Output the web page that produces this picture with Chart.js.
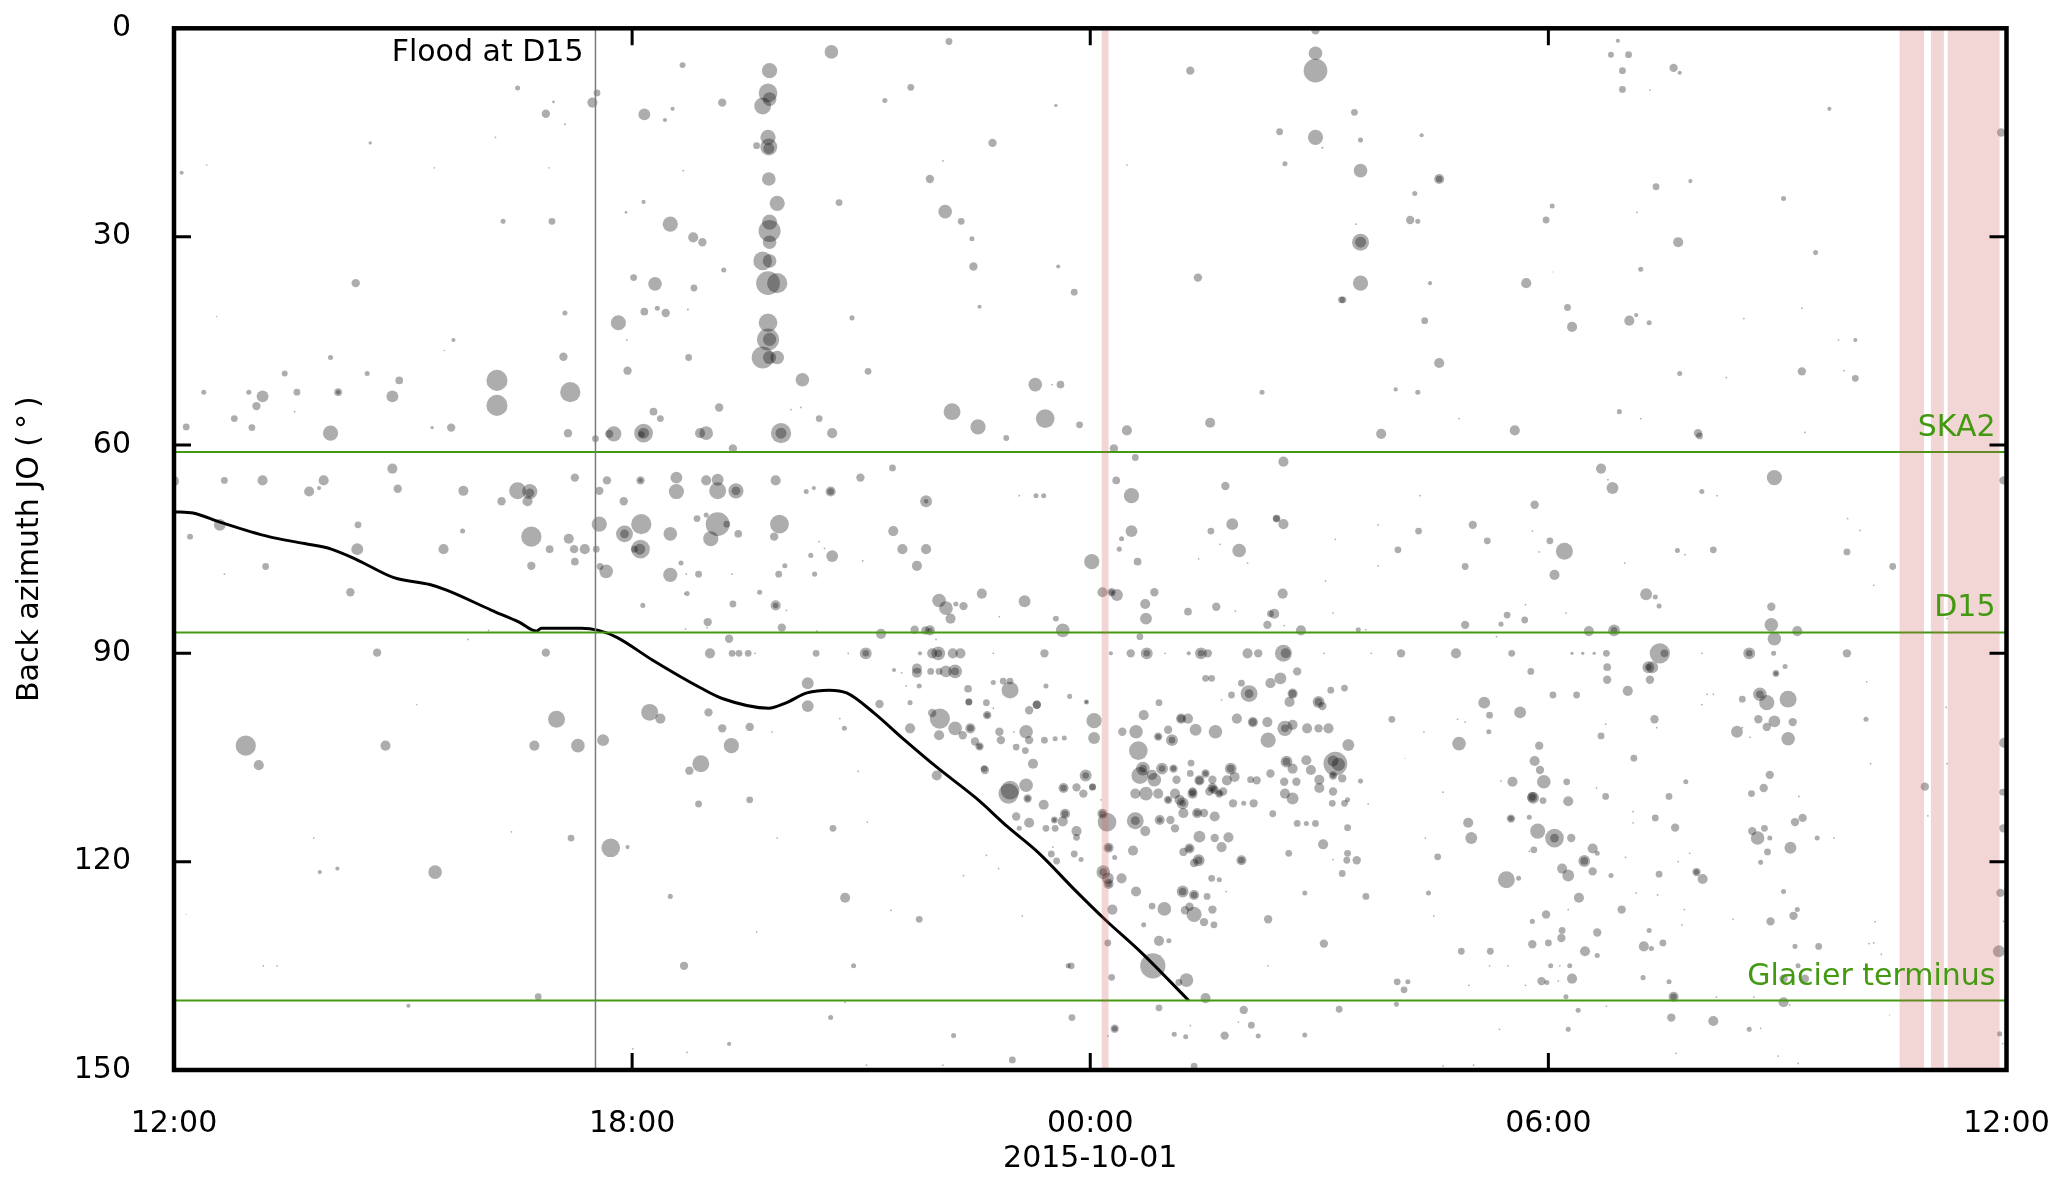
<!DOCTYPE html>
<html><head><meta charset="utf-8">
<style>html,body{margin:0;padding:0;background:#fff;}canvas{display:block;}</style>
<script src="https://cdn.jsdelivr.net/npm/chart.js@4.4.1/dist/chart.umd.min.js"></script>
</head><body>
<canvas id="c" width="2067" height="1180"></canvas>
<script>
// ---- x axis: hours since 2015-09-30 12:00 ----
const xTickLabels = ['12:00', '18:00', '00:00', '06:00', '12:00'];
const xDateLabel = '2015-10-01';
const yTitle = 'Back azimuth JO (\u2009\u00b0\u2009)';

// reference azimuths
const refAz = [61, 87, 140];
const refLabels = ['SKA2', 'D15', 'Glacier terminus'];
// flood arrival at D15
const floodTime = 5.52;
const floodLabel = 'Flood at D15';
// shaded time intervals (hours)
const bandStart = [12.15, 22.60, 23.01, 23.23];
const bandEnd   = [12.24, 22.92, 23.18, 23.91];

// flood front azimuth track
const frontTime = [0.0,0.25,0.6,1.24,1.71,2.06,2.41,2.88,3.35,3.57,4.16,4.52,4.75,4.81,5.33,5.56,5.80,6.27,6.90,7.18,7.79,8.00,8.29,8.58,8.81,9.17,9.57,9.99,10.51,10.92,11.33,11.80,12.20,12.67,13.29];
const frontAz   = [69.6,69.8,71.1,73.2,74.2,75.0,76.6,79.1,80.1,80.9,83.8,85.5,86.8,86.4,86.4,86.7,87.7,91.0,95.0,96.5,97.9,97.2,95.7,95.3,95.7,98.6,102.5,106.4,110.9,115.0,118.8,124.1,128.4,133.1,140.0];

// detected events: time (h), back azimuth (deg), amplitude (arbitrary)
const evtTime = [
6.66,4.50,5.54,5.48,4.97,4.87,6.16,6.53,6.43,5.12,
2.57,4.21,0.10,0.43,3.41,4.91,6.67,6.15,5.92,4.31,
4.95,6.50,6.80,2.38,6.02,6.30,6.81,0.56,5.12,5.82,
6.16,6.33,6.44,6.73,3.66,3.54,5.10,5.93,5.94,6.74,
2.05,1.45,2.53,2.95,4.23,5.19,0.39,0.98,1.16,1.61,
2.15,2.15,2.86,4.23,0.16,0.79,1.02,1.08,1.58,2.05,
3.38,3.63,5.16,5.52,5.76,5.70,6.15,6.15,6.12,6.28,
6.37,6.89,0.00,0.66,1.16,1.96,1.77,1.90,2.86,2.93,
3.79,4.29,4.50,4.66,4.66,4.63,5.25,5.67,5.57,5.89,
6.11,6.11,6.58,6.58,0.60,0.21,2.41,2.40,3.53,3.78,
4.68,5.57,5.90,5.90,6.12,6.11,6.10,6.03,5.17,4.92,
5.24,5.38,5.53,5.25,4.68,5.66,5.58,6.50,6.50,6.64,
6.72,6.14,1.20,0.66,2.31,4.12,3.85,2.66,4.87,5.01,
6.23,6.37,0.94,1.11,2.77,4.72,5.29,5.62,6.90,6.75,
3.18,6.87,1.83,4.42,5.20,5.72,5.94,1.91,2.14,3.42,
6.50,0.16,1.17,1.35,6.68,4.77,3.07,6.01,6.72,10.15,
8.61,7.80,7.78,7.80,7.71,7.18,9.65,9.31,11.55,7.78,
7.79,7.79,7.63,10.72,10.07,7.79,9.90,7.90,8.71,10.10,
10.31,7.80,7.80,7.80,6.92,10.45,7.71,7.80,7.20,10.47,
11.58,7.78,7.90,11.79,10.55,8.88,7.78,7.78,7.80,7.71,
7.80,7.90,9.09,8.23,11.28,11.61,11.50,13.31,14.95,14.95,
14.95,14.48,14.95,15.04,12.48,14.55,13.41,15.29,14.25,7.14,
6.97,7.95,7.95,8.62,8.45,8.08,8.21,7.32,10.19,10.53,
11.41,10.90,11.86,12.48,13.57,12.31,12.59,14.53,6.97,7.12,
7.12,7.36,7.36,7.88,8.60,8.60,8.28,8.38,8.99,9.41,
9.85,9.85,11.29,11.39,11.07,12.34,12.54,13.77,6.85,6.97,
7.12,7.24,7.03,7.39,7.93,7.86,8.62,8.34,8.45,8.52,
9.42,9.54,9.85,9.73,9.02,6.87,6.71,7.31,7.92,8.00,
8.39,12.02,12.38,12.41,12.54,12.62,13.86,13.58,13.70,13.95,
14.06,13.42,14.53,14.44,14.44,15.21,15.08,6.69,7.67,7.32,
7.88,7.88,8.02,10.02,10.11,10.17,10.24,10.34,10.58,11.14,
10.81,11.55,11.64,12.16,12.28,12.28,12.35,12.84,12.72,12.73,
13.28,13.65,13.90,14.41,14.36,14.52,14.32,14.76,14.54,15.18,
12.65,6.99,6.98,6.70,7.96,8.42,9.26,9.70,9.90,9.90,
9.84,9.98,7.27,7.02,7.31,7.40,7.52,7.61,8.41,8.83,
9.06,9.06,9.77,9.93,10.01,10.01,10.20,10.30,10.73,11.40,
12.27,12.53,12.74,12.74,12.98,13.29,13.45,13.45,13.54,14.06,
14.20,14.53,14.56,15.06,15.68,16.07,16.79,17.52,18.31,18.45,
18.60,18.76,19.46,19.52,20.01,20.63,20.63,20.95,21.91,9.73,
9.73,9.91,10.02,10.11,10.23,10.23,9.43,9.53,10.73,10.86,
10.95,9.59,9.76,8.30,8.30,10.95,11.42,10.40,10.41,10.41,
10.64,10.73,11.30,11.30,11.20,11.73,11.95,11.95,9.24,9.64,
7.00,8.72,8.78,7.54,7.18,7.83,9.64,9.93,10.03,10.23,
10.43,10.43,10.02,10.33,10.49,10.55,10.55,10.65,10.65,10.81,
11.00,11.16,10.83,11.20,11.03,11.15,11.40,11.54,11.66,12.05,
12.05,7.30,8.96,9.99,10.61,10.95,11.16,11.25,11.94,11.94,
11.65,11.65,11.82,12.03,12.42,12.60,12.63,12.70,12.89,12.89,
13.02,13.07,13.07,12.90,13.19,13.19,13.28,13.38,13.64,13.92,
14.13,14.13,14.32,14.33,14.55,14.55,14.65,14.84,14.99,15.12,
14.08,14.08,13.85,13.98,14.36,14.49,14.65,14.65,14.61,14.71,
14.99,14.99,15.04,15.15,15.33,13.51,13.59,13.72,12.69,12.69,
12.81,12.94,12.94,13.09,13.09,12.65,13.13,13.32,13.43,13.43,
13.60,13.84,13.84,13.79,13.63,14.10,14.36,14.57,14.57,14.65,
14.83,14.89,15.21,15.25,15.18,15.18,15.18,15.00,15.30,12.89,
13.11,13.34,13.56,13.74,15.38,7.54,8.63,7.90,9.08,8.79,
7.63,9.76,9.39,8.90,11.75,11.71,10.34,10.64,10.80,11.11,
10.62,10.93,11.18,11.18,11.03,11.20,11.07,11.39,11.53,11.53,
11.64,11.67,11.67,11.82,11.82,11.91,12.03,11.42,11.54,11.51,
11.49,11.56,11.79,11.88,12.16,12.16,12.22,12.24,12.24,12.17,
12.17,12.23,12.24,12.24,12.29,12.23,12.28,12.32,12.32,12.23,
12.56,12.32,12.41,12.60,12.59,12.59,12.72,12.59,12.73,12.84,
12.91,12.91,13.05,13.11,13.02,13.02,13.17,13.22,13.21,13.21,
13.34,13.34,13.40,13.40,13.31,13.51,13.51,13.60,13.60,13.69,
13.69,13.89,13.49,13.63,13.43,13.30,13.30,13.42,13.42,13.22,
13.36,13.63,13.72,13.81,13.21,13.21,13.36,13.36,13.30,13.24,
13.36,13.53,13.60,12.97,12.81,13.49,13.62,13.59,13.69,13.78,
12.90,13.03,12.70,12.82,13.26,13.16,13.51,12.90,13.10,13.25,
13.31,13.36,13.76,14.01,14.11,14.20,13.94,14.33,14.33,14.81,
14.81,15.06,15.05,15.18,15.30,15.37,15.37,15.26,14.71,14.83,
14.95,14.70,14.55,14.65,14.54,15.00,15.18,14.18,13.87,14.01,
14.14,14.39,13.98,13.98,14.60,15.17,15.33,8.79,8.60,7.27,
10.21,10.98,11.76,9.07,10.07,12.14,18.91,18.82,19.05,18.97,
19.64,19.72,18.97,19.33,21.68,23.93,15.46,15.54,16.34,15.54,
16.57,16.57,16.25,19.41,19.86,21.08,18.05,19.16,17.97,16.19,
16.29,15.48,15.54,15.54,19.70,21.50,19.21,18.06,15.54,16.45,
17.71,15.31,18.25,19.06,19.15,19.32,18.31,16.38,20.56,21.32,
21.80,22.02,16.57,19.72,20.33,21.32,21.87,22.02,16.00,16.29,
15.81,16.83,17.56,18.93,19.21,19.96,19.98,21.36,18.69,18.84,
18.78,20.96,20.01,20.21,16.32,17.82,17.01,16.30,15.77,17.79,
17.20,18.02,18.21,17.88,16.03,19.69,19.79,20.16,21.91,22.51,
22.26,18.08,16.91,15.77,19.00,19.28,19.40,19.45,21.92,22.08,
17.70,18.23,17.46,17.38,17.69,16.91,20.92,20.92,20.96,21.26,
18.53,18.86,18.86,15.51,15.61,23.22,17.32,17.77,18.77,18.77,
19.31,19.31,19.36,19.33,20.98,20.98,21.10,22.17,19.04,18.06,
18.37,17.16,17.63,17.23,15.95,16.81,16.91,16.37,17.22,18.69,
18.75,19.39,19.42,20.01,20.08,20.16,20.54,20.77,20.77,20.86,
21.14,20.75,20.96,20.86,21.20,20.47,20.54,20.64,21.14,22.16,
22.22,16.83,17.88,16.12,17.82,17.89,17.94,18.24,17.53,17.38,
19.12,19.80,20.90,20.82,20.66,21.28,22.93,23.22,23.21,23.97,
15.54,16.62,18.63,18.75,17.79,17.79,15.37,15.64,15.36,15.49,
15.61,16.01,16.02,16.16,16.11,16.39,16.55,16.43,16.50,16.95,
16.99,16.86,16.96,17.24,17.23,17.47,17.36,17.02,16.62,17.51,
17.51,17.45,17.61,17.75,17.80,17.93,17.86,18.08,18.08,18.30,
17.81,17.75,18.26,18.58,18.64,18.47,18.47,18.58,18.18,18.26,
18.82,18.40,18.26,17.97,17.79,18.18,18.17,17.79,18.00,18.64,
18.48,18.64,18.03,18.15,18.28,18.31,18.13,17.91,17.98,18.23,
18.39,18.26,17.70,19.01,19.11,19.11,19.40,19.66,19.58,19.85,
19.45,19.94,19.94,20.02,19.70,19.15,19.43,18.96,19.78,19.32,
19.50,19.25,19.35,19.75,19.24,19.58,19.64,19.64,19.61,20.16,
19.67,18.76,20.42,20.67,20.74,20.83,20.90,20.87,21.17,20.78,
21.23,21.33,21.52,21.74,21.08,20.91,21.21,21.26,21.23,21.54,
21.27,21.36,21.08,21.08,21.16,20.69,20.20,20.63,20.78,21.01,
21.27,22.28,22.20,22.26,22.36,22.47,22.97,23.95,23.96,23.92,
23.90,23.91,23.96,23.95,23.96
];
const evtAz = [
5.3,8.6,9.3,10.7,10.6,12.3,12.4,11.6,13.2,13.8,
16.5,15.7,20.8,19.7,20.1,20.1,20.5,25.0,26.5,27.8,
27.8,28.2,30.1,36.7,35.9,36.8,37.4,41.5,41.0,42.4,
40.8,40.3,41.0,40.5,44.9,46.4,47.3,44.9,49.3,47.4,
47.4,49.7,49.7,50.7,50.7,52.4,52.4,52.4,53.0,52.4,
52.4,52.4,53.0,54.3,57.4,56.2,57.5,54.4,55.2,58.3,
57.5,57.5,58.3,59.1,58.4,58.4,58.3,58.3,58.5,55.2,
56.2,58.3,65.2,65.1,65.1,65.1,66.7,66.2,63.4,66.3,
66.6,68.1,66.6,66.7,66.9,68.1,64.7,65.1,66.6,68.1,
65.1,65.1,66.7,64.7,71.5,73.2,71.5,75.0,75.0,72.4,
73.2,71.4,72.8,72.8,71.4,75.0,75.0,75.0,73.5,75.0,
75.0,75.0,75.0,76.8,77.4,78.2,77.5,72.8,78.7,77.0,
81.4,83.1,77.5,78.6,81.2,86.7,88.0,89.9,89.9,99.5,
98.5,99.4,103.3,106.1,103.3,103.3,103.3,102.5,105.9,106.9,
97.4,111.7,116.6,115.7,116.6,118.0,117.9,121.5,121.0,121.5,
125.0,127.6,135.0,135.0,135.0,139.45,140.75,146.95,147.45,1.9,
3.4,6.1,9.3,10.2,11.2,10.7,8.5,10.4,11.1,15.7,
17.1,17.3,16.9,16.5,19.1,21.7,21.7,25.2,25.1,26.4,
27.8,27.9,29.2,30.8,30.8,30.3,33.5,33.5,34.8,34.3,
34.3,36.7,36.7,38.0,40.1,41.7,42.4,44.8,44.8,47.4,
47.4,47.4,49.4,50.6,51.3,51.3,51.3,6.1,0.3,3.6,
6.1,14.9,15.7,17.2,19.7,19.5,35.9,39.1,52.4,54.6,
58.3,58.3,58.3,58.3,56.2,54.9,54.6,60.5,55.2,57.4,
56.2,59.0,57.1,57.9,56.8,60.5,61.8,62.4,65.1,65.0,
66.6,66.6,66.6,65.1,66.7,66.7,66.7,66.2,64.7,63.3,
68.1,68.1,67.3,67.3,67.3,65.1,67.3,65.9,70.6,70.1,
71.4,71.4,73.5,72.8,71.4,73.2,76.0,75.9,73.9,74.9,
72.4,75.0,75.0,77.4,76.7,78.6,78.6,78.6,78.6,77.4,
78.6,76.8,75.0,73.5,72.4,76.8,71.4,72.4,74.3,75.2,
77.0,76.4,71.4,70.6,70.6,73.6,79.6,81.4,81.2,82.9,
83.1,83.1,83.8,82.4,83.5,85.0,82.9,83.2,81.4,82.5,
84.7,85.0,86.7,81.2,81.2,81.2,81.6,81.2,82.9,85.0,
84.0,83.3,83.9,84.3,84.3,81.4,85.9,86.7,86.0,84.2,
87.6,85.5,86.3,86.5,86.3,86.8,87.2,86.6,86.7,86.7,
86.7,88.0,87.9,90,90,90,90,90,90,90,
90,90,90,90,90,90,90,90,90,90,
90,90,90,90,90,90,90,90,90,90,
90,90,90,90,90,90,90,90,90,90,
90,90,90,90,90,90,90,90,90,92.2,
92.8,92.6,92.6,92.6,92.6,92.6,92.4,92.8,94.2,94.0,
94.0,94.7,94.7,94.3,97.6,95.3,94.7,95.1,97.0,97.0,
97.1,97.9,97.4,97.4,98.2,96.2,97.0,97.0,97.3,97.1,
98.5,99.4,100.8,100.6,100.8,101.3,100.8,98.6,99.4,100.8,
100.8,100.8,101.8,101.8,102.7,103.4,103.4,98.9,98.9,101.3,
101.3,101.3,102.5,102.5,103.5,104.0,102.5,102.3,102.2,99.7,
102.2,103.3,107.0,107.6,106.6,109.7,109.0,105.9,107.6,107.6,
109.4,109.4,109.3,109.3,101.3,101.3,104.0,98.9,102.0,102.0,
101.0,102.5,102.5,97.1,99.4,99.4,99.4,101.0,101.3,99.4,
99.9,99.9,99.9,102.5,100.8,100.8,100.3,100.8,100.8,100.8,
95.8,95.8,96.0,94.3,94.3,93.6,95.8,95.8,97.0,92.6,
97.0,97.0,97.6,95.3,95.0,93.6,93.6,96.7,106.6,106.6,
107.5,106.6,106.6,106.6,106.6,107.6,108.2,105.8,108.3,108.3,
108.2,106.6,106.6,108.3,109.7,108.2,107.3,105.6,105.6,106.6,
105.4,106.8,105.9,106.0,105.5,107.6,107.6,108.2,108.0,110.2,
110.2,109.9,109.9,109.9,103.2,111.1,115.2,116.6,114.3,125.2,
130.1,128.3,127.0,135.0,135.0,135.0,122.0,119.1,121.0,127.8,
106.8,110.2,110.9,110.9,113.5,114.4,115.2,111.8,114.0,114.0,
114.2,113.1,113.1,115.6,116.5,110.2,109.2,115.2,115.2,117.9,
118.9,119.9,118.9,119.7,113.1,113.1,114.3,118.0,118.0,121.5,
121.5,122.4,123.2,123.2,126.9,131.7,136.65,144.05,144.05,145.1,
118.4,119.4,122.4,124.3,114.1,114.1,115.6,110.2,110.2,108.2,
114.0,114.0,114.0,115.2,111.1,111.1,111.1,113.0,111.6,111.6,
110.2,110.2,113.0,113.0,107.3,107.3,107.3,109.4,109.4,110.2,
110.2,107.8,113.0,113.5,116.4,118.1,118.1,119.8,119.8,118.6,
120.2,116.6,117.9,116.5,124.3,124.3,124.8,124.8,126.5,127.0,
127.6,125.0,126.9,126.8,126.4,128.7,129.1,122.4,122.6,124.3,
131.4,131.4,129.1,135.0,137.05,137.4,139.65,141.05,144.85,145.2,
143.6,149.45,145.05,141.35,143.55,145.1,143.1,128.3,135.0,144.95,
124.5,131.8,117.5,119.7,121.7,118.8,115.1,141.25,114.5,114.5,
114.5,108.5,110.2,110.9,108.5,109.4,109.9,108.3,111.6,111.6,
111.6,113.1,119.8,119.8,118.8,111.6,111.6,140.25,142.45,146.25,
145.05,148.55,142.45,149.3,149.3,111.1,1.8,3.8,3.8,6.1,
5.7,6.4,8.8,8.9,11.6,15.0,12.1,16.1,15.4,20.5,
21.7,21.7,23.8,22.8,22.0,24.5,25.6,26.5,27.6,27.6,
27.8,28.2,30.8,30.8,30.8,32.3,34.7,35.1,36.7,36.7,
36.7,39.1,40.2,42.1,41.3,42.4,43.0,42.1,41.8,40.3,
44.9,44.9,48.2,49.7,50.3,49.4,49.3,50.4,52.0,52.4,
58.4,56.2,57.9,55.2,56.2,58.3,58.7,58.2,63.4,66.2,
65.0,64.7,66.7,67.3,67.3,68.6,71.5,72.4,71.5,72.4,
73.8,73.8,75.3,75.4,75.1,75.2,75.8,75.1,75.4,77.5,
80.2,78.7,77.5,77.4,77.0,81.5,81.9,83.2,70.6,72.3,
83.0,84.2,84.5,85.8,85.2,85.9,83.3,85.9,87.9,86.8,
86.8,86.7,86.7,86.6,86.6,85.0,87.6,92.6,92.0,93.8,
92.0,92.0,92.0,93.8,92.9,92.9,91.9,94.1,95.4,96.0,
96.0,97.1,98.5,98.9,99.5,99.5,99.9,101.3,101.3,101.9,
100.2,99.5,100.7,97.4,95.9,95.9,96.6,95.9,95.9,97.1,
96.6,99.5,99.8,100.6,99.9,101.3,100.7,102.1,102.3,99.5,
105.9,103.0,103.3,105.1,105.5,106.8,108.5,108.5,108.5,108.4,
105.1,108.5,107.5,109.4,110.2,110.6,109.2,105.9,97.8,102.9,
108.4,110.0,109.4,110.6,110.7,110.7,111.1,111.7,119.8,119.8,
125.0,140.55,137.3,137.3,138.45,116.6,119.3,124.5,127.8,114.4,
116.6,132.9,137.8,132.9,135.0,135.0,144.15,149.3,149.4,113.8,
113.8,122.6,122.4,113.6,110.8,111.2,115.6,116.6,116.6,116.6,
118.3,118.5,111.3,118.1,118.8,119.9,119.9,121.4,121.0,122.0,
122.0,125.2,126.9,127.6,128.6,129.9,131.0,131.9,131.7,130.2,
132.9,133.5,135.0,135.0,135.0,136.85,137.2,137.2,137.4,139.45,
141.4,144.15,137.8,119.4,112.8,114.4,113.7,115.1,110.6,118.8,
121.8,121.5,121.5,122.5,120.0,124.5,124.8,126.9,126.9,129.9,
131.7,132.2,132.5,129.1,136.7,137.3,139.45,139.45,142.45,142.95,
147.6,140.8,128.3,115.6,116.6,115.2,116.6,118.6,118.0,120.1,
114.3,113.7,116.6,116.6,124.3,128.6,127.8,126.9,132.2,132.2,
135.0,136.85,136.85,140.25,140.65,139.5,139.5,144.15,144.0,148.0,
149.05,128.65,131.8,131.7,133.35,142.1,113.4,110.0,115.2,124.5,
132.9,144.8,128.6,146.2,65.1
];
const evtAmp = [
2.7,2.3,3.1,4.6,1.2,3.8,5.4,1.9,1.9,0.9,
1.5,0.8,1.9,0.7,0.7,0.7,0.8,1.9,1.2,2.3,
3.1,6.9,4.6,3.8,3.1,6.2,3.1,0.7,2.3,6.9,
3.5,2.3,3.8,0.9,1.9,0.7,3.8,0.9,3.8,3.1,
2.3,2.7,2.3,3.5,9.6,9.2,2.3,2.3,5.4,3.1,
3.5,2.0,5.4,9.6,3.1,3.1,3.1,3.8,0.8,6.9,
1.5,3.8,3.8,3.1,6.9,3.8,8.5,5.0,3.0,3.5,
3.1,4.6,4.6,3.1,4.6,4.6,4.6,1.9,4.6,3.8,
4.6,3.8,7.7,6.9,4.0,4.6,3.8,3.8,3.8,3.8,
3.8,2.0,6.9,5.4,5.4,2.7,3.1,5.4,4.6,2.3,
9.2,6.9,7.7,4.0,9.2,8.5,5.0,3.1,4.6,3.5,
3.8,4.6,3.1,3.5,3.8,6.2,3.1,6.2,6.5,2.3,
2.3,2.3,3.1,0.8,3.8,0.8,0.8,3.8,3.8,7.7,
7.7,4.6,9.2,4.6,4.6,4.6,6.2,5.4,7.7,3.8,
0.7,3.1,0.8,0.8,3.1,8.5,1.9,1.9,1.9,6.2,
2.3,0.5,0.8,0.8,3.8,3.1,1.9,0.8,0.8,3.1,
6.2,6.9,8.5,6.2,7.7,3.8,3.1,2.3,1.5,6.9,
7.7,5.0,3.1,3.8,0.8,6.2,3.8,6.9,3.1,6.2,
3.1,6.9,10.0,6.2,3.8,2.3,8.5,6.2,2.3,3.8,
1.9,10.8,9.2,3.1,1.9,2.3,8.5,10.0,6.0,10.0,
6.0,6.2,3.1,6.2,6.2,3.5,0.8,3.8,3.8,6.2,
10.8,3.1,6.9,1.0,0.8,2.3,3.8,3.1,2.3,3.8,
6.2,9.2,5.0,4.6,3.1,0.8,0.8,3.8,7.7,6.9,
8.5,2.7,3.1,4.6,4.6,3.8,3.1,4.6,4.6,5.4,
7.7,6.9,4.0,4.6,4.6,3.0,2.3,1.9,3.8,3.1,
5.4,2.0,2.3,2.3,0.8,3.5,6.9,3.8,3.1,2.3,
10.8,3.1,6.9,3.5,8.5,3.8,5.4,2.3,0.8,0.8,
4.6,4.6,4.6,4.6,0.8,3.1,0.8,0.8,3.1,2.3,
2.3,6.9,2.3,2.3,5.4,3.5,5.4,3.1,0.8,6.2,
0.8,0.8,4.6,3.5,3.0,0.8,0.8,0.8,2.3,3.1,
4.6,2.5,0.8,6.2,6.2,4.6,2.3,3.8,4.6,5.4,
0.8,2.7,6.2,4.6,3.8,2.5,5.4,3.8,4.6,5.4,
3.5,3.8,0.8,4.6,3.1,4.6,3.8,4.6,0.8,0.8,
3.1,3.8,0.8,0.8,3.8,0.8,4.6,3.8,4.6,2.5,
3.8,0.8,3.8,4.6,3.1,3.1,3.1,0.8,3.1,0.8,
5.4,3.0,1.9,4.6,6.2,3.5,4.6,4.6,0.8,3.8,
1.9,3.8,5.4,3.0,0.8,1.9,5.4,3.0,3.8,4.6,
3.8,7.7,4.5,0.8,0.8,3.8,4.6,3.1,1.5,1.5,
1.5,3.1,9.2,3.5,0.8,5.4,3.0,2.3,3.8,4.6,
4.6,3.1,3.1,5.4,6.2,3.5,1.9,0.8,2.3,3.1,
3.1,0.8,2.3,5.4,5.4,7.7,2.3,3.5,3.1,3.1,
3.1,0.8,3.8,3.8,3.8,2.3,2.3,1.5,3.8,2.3,
3.8,0.8,2.3,3.8,3.8,0.8,4.6,3.8,9.2,6.2,
4.6,3.0,4.6,3.8,3.8,3.8,2.5,3.8,2.5,3.8,
0.8,6.2,3.8,3.8,3.1,3.1,3.1,2.3,2.3,6.9,
5.4,6.9,0.8,4.6,3.1,8.5,6.2,4.6,5.4,3.0,
4.6,3.0,3.8,3.1,3.8,6.2,8.5,4.6,3.8,2.5,
3.8,5.4,3.0,3.1,4.6,3.5,4.6,5.4,6.2,4.6,
4.6,3.5,4.6,6.9,6.9,3.5,4.6,4.6,3.8,4.6,
7.7,4.0,3.1,3.1,4.6,5.4,4.6,3.5,4.6,3.8,
5.4,3.5,3.8,3.1,3.1,3.1,3.1,0.8,6.2,3.5,
4.6,5.4,3.0,3.8,2.5,7.7,3.8,3.1,4.6,3.5,
3.8,5.4,3.5,4.6,3.8,3.1,3.8,5.4,3.5,4.6,
4.6,4.6,10.8,6.0,5.0,3.8,2.5,4.6,3.8,4.6,
4.6,3.8,3.8,3.8,5.4,3.1,3.1,0.8,0.8,4.6,
0.8,3.1,0.8,2.3,3.1,2.3,0.8,0.8,0.8,0.8,
3.8,9.2,3.8,2.5,3.8,4.6,2.3,4.6,3.1,2.0,
4.6,4.6,3.0,4.6,3.1,3.8,3.1,3.1,3.1,0.8,
3.1,3.1,3.1,2.3,4.6,3.0,8.5,4.6,3.0,6.2,
3.5,5.4,4.6,3.0,4.6,3.1,3.1,3.8,2.5,0.8,
4.6,2.3,4.6,4.6,7.7,4.0,4.6,4.6,6.2,6.2,
4.6,2.5,3.8,3.8,3.8,2.5,4.6,4.6,5.4,3.0,
4.6,3.0,4.6,3.0,3.1,3.8,2.5,4.6,3.0,3.8,
2.5,4.6,3.8,4.6,5.4,4.6,3.0,5.4,3.5,3.8,
3.8,3.8,4.6,4.6,5.4,3.5,4.6,3.0,3.8,3.8,
6.9,3.1,3.8,6.2,3.1,3.8,3.1,3.1,2.3,0.8,
4.6,2.3,2.3,11.5,6.2,3.1,4.6,3.1,2.3,2.3,
0.8,3.1,3.8,3.8,3.1,2.3,0.8,3.8,0.8,2.3,
2.3,3.8,4.6,0.8,3.1,3.1,3.1,3.1,3.1,2.3,
3.1,3.8,4.6,5.4,3.8,4.6,3.8,3.8,3.8,2.3,
3.8,3.1,4.6,3.0,3.1,3.1,3.1,0.8,2.3,1.9,
2.3,3.1,3.1,0.8,0.8,0.8,1.9,2.7,3.1,3.1,
3.8,1.9,3.1,0.8,1.9,3.8,3.1,2.3,1.9,6.2,
4.6,3.0,2.3,3.1,1.9,2.3,2.3,0.8,3.1,3.8,
2.3,0.8,7.7,5.0,4.6,2.3,2.3,0.5,6.9,1.9,
4.6,3.1,3.1,4.6,1.9,2.3,4.6,3.1,0.8,0.8,
0.8,1.9,4.6,2.3,0.8,3.8,0.8,3.1,1.9,2.3,
4.6,0.8,4.6,2.3,0.8,3.8,3.1,0.8,4.6,5.4,
0.8,6.9,2.3,0.8,0.8,3.8,3.8,3.1,0.8,0.8,
3.1,3.1,7.7,0.8,3.1,2.3,0.8,3.1,3.1,3.1,
0.8,4.6,3.1,0.8,0.8,5.4,2.3,2.3,0.8,0.8,
0.8,0.8,3.1,2.3,3.1,3.8,3.8,6.2,6.2,4.6,
4.6,5.4,3.0,2.3,0.8,0.8,0.8,3.1,3.5,3.8,
5.4,3.0,5.4,3.8,3.1,2.0,2.3,0.8,4.6,3.1,
3.1,5.4,5.4,3.1,3.1,0.8,0.8,0.8,2.3,3.1,
0.8,3.8,0.8,0.8,0.8,0.8,3.1,6.2,3.5,6.9,
7.7,3.8,5.4,3.8,3.8,5.4,0.8,0.8,6.2,2.3,
0.8,6.2,3.8,0.5,4.6,3.8,6.2,3.1,4.6,0.8,
3.1,2.3,3.8,3.8,3.1,0.8,3.8,0.8,0.8,4.6,
2.3,0.8,0.8,3.1,4.6,3.1,2.3,0.8,3.1,3.8,
3.1,2.3,3.1,2.3,3.1,0.8,3.1,2.3,0.8,4.6,
5.4,3.1,0.8,3.1,0.8,0.8,0.8,0.8,0.8,3.8,
2.5,7.7,2.3,2.3,5.4,3.1,6.9,8.5,4.0,3.8,
3.1,0.8,4.6,4.6,2.3,5.4,3.5,3.8,4.6,5.4,
2.3,4.6,0.8,3.8,2.3,3.1,3.8,3.8,3.1,3.8,
4.6,2.3,2.3,0.8,2.3,4.6,0.8,3.8,2.3,2.3,
2.3,2.3,0.8,0.8,0.8,0.8,3.1,3.8,3.1,0.8,
3.1,3.8,2.5,4.6,0.8,0.8,0.8,3.8,0.8,2.3,
3.1,4.6,2.3,0.8,2.3,2.3,4.6,3.0,3.8,4.6,
0.8,0.8,0.8,3.8,6.2,3.1,2.3,3.1,5.4,2.3,
3.8,3.8,2.3,0.8,2.3,3.8,3.8,2.3,2.3,3.1,
2.3,3.8,3.8,4.6,0.8,0.8,0.8,2.3,0.8,0.8,
0.8,0.8,0.8,0.8,0.8,0.5,0.8,3.1,3.8,3.8,
5.4,2.3,0.8,0.8,3.8
];

// ---- build datasets ----
const FONT = "'DejaVu Sans', 'Liberation Sans', sans-serif";
const GREEN = '#43990f';
const nEvt = Math.min(evtTime.length, evtAz.length, evtAmp.length);
const eventPoints = [];
const eventRadius = [];
for (let i = 0; i < nEvt; i++) {
  eventPoints.push({ x: evtTime[i], y: evtAz[i] });
  eventRadius.push(evtAmp[i] * 1.1);
}
const frontPoints = frontTime.map((t, i) => ({ x: t, y: frontAz[i] }));

const overlay = {
  id: 'overlay',
  afterDatasetsDraw(chart) {
    const { ctx, chartArea: a, scales: { x, y } } = chart;
    ctx.save();
    ctx.beginPath();
    ctx.rect(a.left, a.top, a.right - a.left, a.bottom - a.top);
    ctx.clip();
    ctx.strokeStyle = GREEN;
    ctx.lineWidth = 2;
    refAz.forEach(v => {
      const py = y.getPixelForValue(v);
      ctx.beginPath(); ctx.moveTo(a.left, py); ctx.lineTo(a.right, py); ctx.stroke();
    });
    const fx = x.getPixelForValue(floodTime);
    ctx.strokeStyle = '#7a7a7a';
    ctx.lineWidth = 1.5;
    ctx.beginPath(); ctx.moveTo(fx, a.top); ctx.lineTo(fx, a.bottom); ctx.stroke();
    ctx.fillStyle = 'rgba(205,92,92,0.25)';
    bandStart.forEach((s, i) => {
      const x0 = x.getPixelForValue(s), x1 = x.getPixelForValue(bandEnd[i]);
      ctx.fillRect(x0, a.top, x1 - x0, a.bottom - a.top);
    });
    ctx.restore();
    ctx.save();
    ctx.font = '30px ' + FONT;
    ctx.textAlign = 'right';
    ctx.textBaseline = 'alphabetic';
    ctx.fillStyle = GREEN;
    refAz.forEach((v, i) => ctx.fillText(refLabels[i], a.right - 11, y.getPixelForValue(v) - 16));
    ctx.fillStyle = '#000';
    ctx.fillText(floodLabel, fx - 12, a.top + 33);
    ctx.restore();
  },
  afterDraw(chart) {
    const { ctx, chartArea: a, scales: { x, y } } = chart;
    ctx.save();
    ctx.strokeStyle = '#000';
    ctx.lineWidth = 3;
    const TL = 17;
    x.ticks.forEach(t => {
      const px = x.getPixelForValue(t.value);
      ctx.beginPath();
      ctx.moveTo(px, a.bottom); ctx.lineTo(px, a.bottom - TL);
      ctx.moveTo(px, a.top); ctx.lineTo(px, a.top + TL);
      ctx.stroke();
    });
    y.ticks.forEach(t => {
      const py = y.getPixelForValue(t.value);
      ctx.beginPath();
      ctx.moveTo(a.left, py); ctx.lineTo(a.left + TL, py);
      ctx.moveTo(a.right, py); ctx.lineTo(a.right - TL, py);
      ctx.stroke();
    });
    ctx.lineWidth = 4.5;
    ctx.strokeRect(a.left, a.top, a.right - a.left, a.bottom - a.top);
    ctx.restore();
  }
};

new Chart(document.getElementById('c'), {
  type: 'scatter',
  data: {
    datasets: [
      {
        type: 'line',
        data: frontPoints,
        borderColor: '#000',
        borderWidth: 3,
        pointRadius: 0,
        fill: false,
        cubicInterpolationMode: 'monotone',
        clip: 0,
        order: 0
      },
      {
        type: 'scatter',
        data: eventPoints,
        backgroundColor: 'rgba(0,0,0,0.32)',
        borderWidth: 0,
        pointRadius: c => eventRadius[c.dataIndex],
        pointHoverRadius: c => eventRadius[c.dataIndex],
        clip: 0,
        order: 1
      }
    ]
  },
  options: {
    responsive: false,
    maintainAspectRatio: false,
    devicePixelRatio: 1,
    animation: false,
    events: [],
    layout: { padding: { left: 0, top: 28.3, right: 60.5, bottom: 0 } },
    plugins: { legend: { display: false }, tooltip: { enabled: false } },
    scales: {
      x: {
        type: 'linear', position: 'bottom', min: 0, max: 24,
        grid: { display: false }, border: { display: false },
        ticks: {
          stepSize: 6, autoSkip: false, maxRotation: 0, padding: 29,
          color: '#000', font: { family: FONT, size: 30, lineHeight: 1.17 },
          callback: (v) => {
            const i = Math.round(v / 6);
            return i === 2 ? [xTickLabels[i], xDateLabel] : xTickLabels[i];
          }
        },
        afterFit: s => { s.height = 110; s.paddingLeft = 0; s.paddingRight = 0; s.paddingTop = 0; s.paddingBottom = 0; }
      },
      y: {
        type: 'linear', position: 'left', min: 0, max: 150, reverse: true,
        grid: { display: false }, border: { display: false },
        ticks: { stepSize: 30, padding: 35, color: '#000', font: { family: FONT, size: 30 } },
        title: { display: true, text: yTitle, color: '#000', font: { family: FONT, size: 30, lineHeight: 1.2 }, padding: { top: 12, bottom: 0 } },
        afterFit: s => { s.width = 174; s.paddingTop = 0; s.paddingBottom = 0; s.paddingLeft = 0; s.paddingRight = 0; }
      }
    }
  },
  plugins: [overlay]
});
</script>
</body></html>
